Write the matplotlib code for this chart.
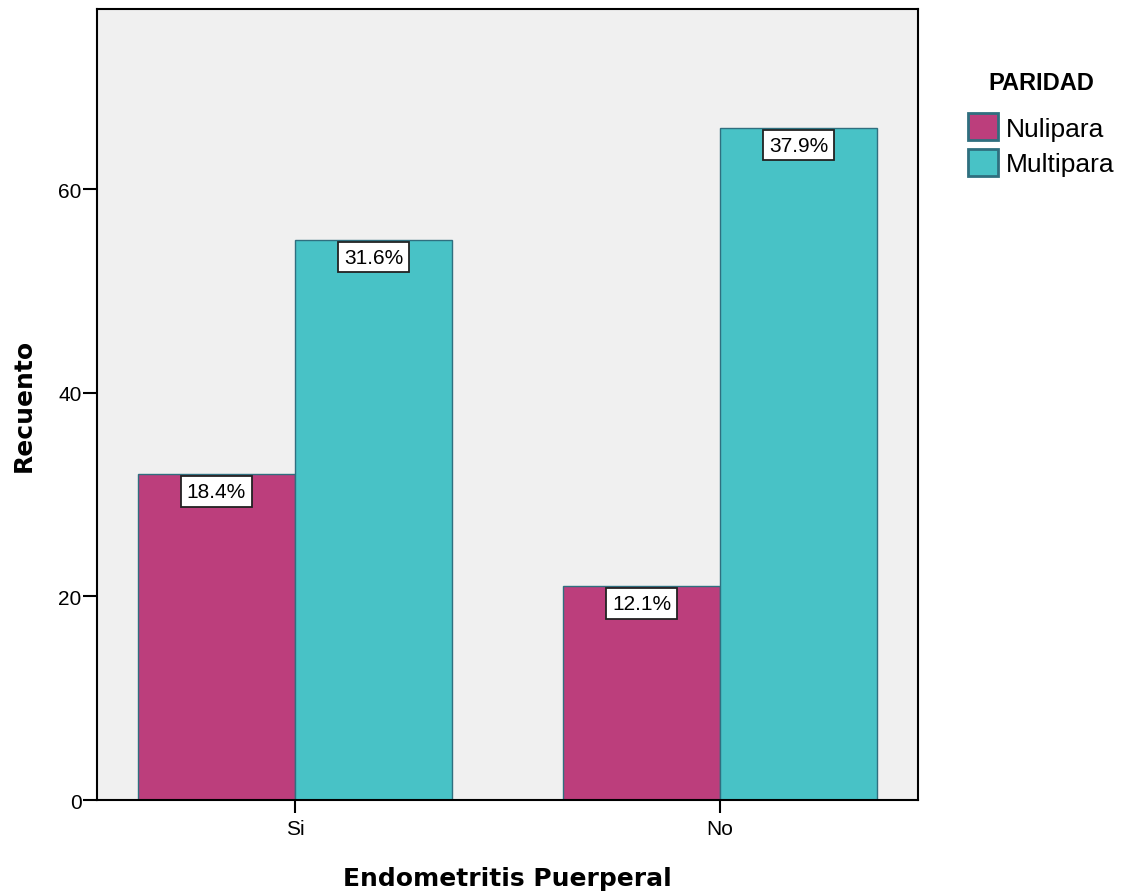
import matplotlib
matplotlib.use("Agg")
import matplotlib.pyplot as plt
import numpy as np
from matplotlib.patches import Patch

plt.rcParams['font.family'] = ['Liberation Sans', 'DejaVu Sans']

categories = ["Si", "No"]
series_names = ["Nulipara", "Multipara"]
nulipara = [32, 21]
multipara = [55, 66]
pct_nulipara = ["18.4%", "12.1%"]
pct_multipara = ["31.6%", "37.9%"]
yticks = [0, 20, 40, 60]

colors = ["#bc3e7c", "#48c2c6"]
edge = "#2f6f7f"

fig = plt.figure(figsize=(11.25, 8.95), dpi=100)
ax = fig.add_axes([0.0862, 0.105, 0.730, 0.884])
ax.set_facecolor("#f0f0f0")

x = np.arange(len(categories))
w = 0.37
b1 = ax.bar(x - w/2, nulipara, w, color=colors[0], edgecolor=edge, linewidth=1)
b2 = ax.bar(x + w/2, multipara, w, color=colors[1], edgecolor=edge, linewidth=1)

for bars, labels in ((b1, pct_nulipara), (b2, pct_multipara)):
    for r, lab in zip(bars, labels):
        ax.annotate(lab, (r.get_x() + r.get_width()/2, r.get_height()),
                    xytext=(0, -12.3), textcoords="offset points",
                    ha="center", va="center", fontsize=15,
                    bbox=dict(boxstyle="square,pad=0.28", fc="white", ec="#222222", lw=1.3))

ax.set_xlim(-0.466, 1.466)
ax.set_ylim(0, 77.7)
ax.set_xticks(x)
ax.set_xticklabels(categories, fontsize=15)
ax.set_yticks(yticks)
ax.set_yticklabels([str(t) for t in yticks], fontsize=15)
ax.tick_params(axis="y", direction="out", length=10, width=1.5, color="black", pad=1)
ax.tick_params(axis="x", direction="out", length=9, width=1.5, color="black", pad=5)
for s in ax.spines.values():
    s.set_color("black")
    s.set_linewidth(1.5)

ax.set_xlabel("Endometritis Puerperal", fontsize=18, fontweight="bold",
              family="DejaVu Sans", labelpad=20)
ax.set_ylabel("Recuento", fontsize=18, fontweight="bold",
              family="DejaVu Sans", labelpad=16)

handles = [Patch(facecolor=colors[i], edgecolor=edge, linewidth=2, label=series_names[i]) for i in range(2)]
leg = fig.legend(handles=handles, title="PARIDAD", loc="upper left",
                 bbox_to_anchor=(0.8603, 0.9196), frameon=False, fontsize=19,
                 title_fontproperties={"weight": "bold", "size": 17},
                 handlelength=1.15, handleheight=1.2, handletextpad=0.3, labelspacing=0.3,
                 borderaxespad=0, borderpad=0)
leg._legend_box.align = "center"
leg._legend_box.sep = 14

fig.savefig("out.png", dpi=100)
